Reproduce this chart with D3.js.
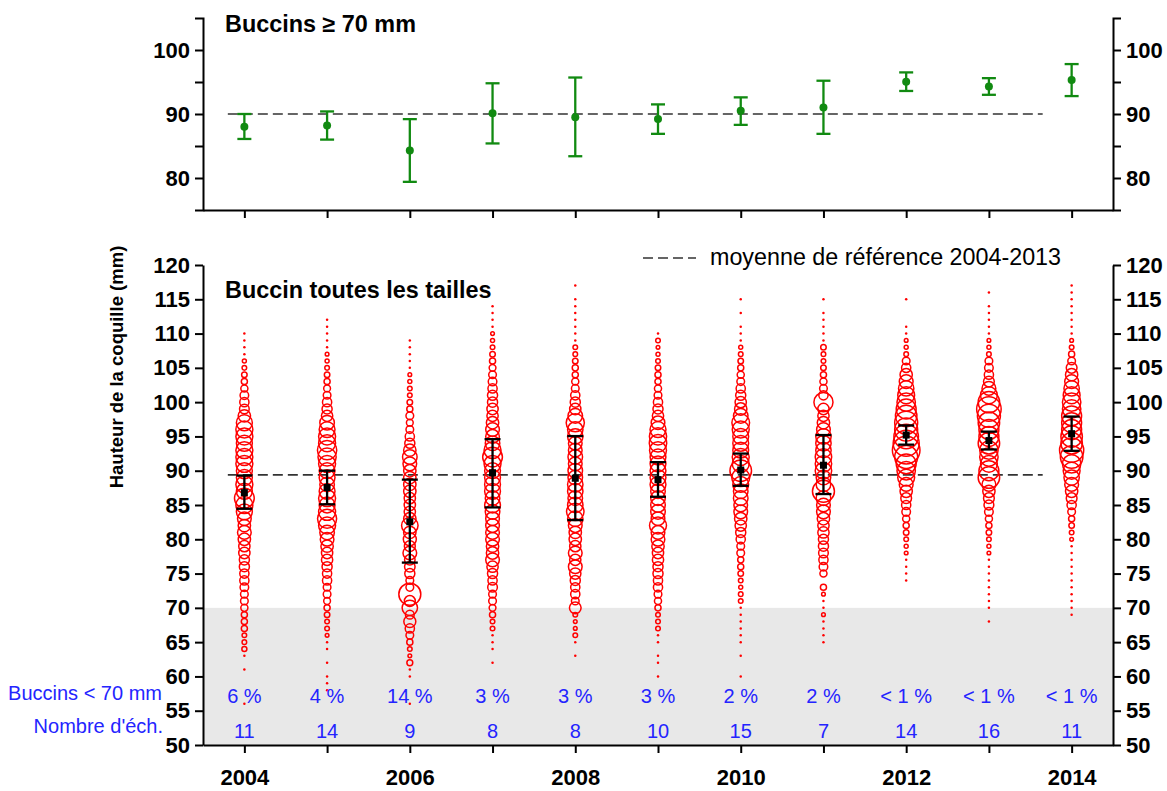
<!DOCTYPE html>
<html><head><meta charset="utf-8">
<script src="https://cdn.jsdelivr.net/npm/d3@7"></script>
<style>body{margin:0;background:#fff}svg{display:block}</style>
</head><body><svg id="c" width="1167" height="791"></svg>
<script>
const years = [2004,2005,2006,2007,2008,2009,2010,2011,2012,2013,2014];
const largeMean = [88.0, 88.2, 84.3, 90.1, 89.5, 89.2, 90.5, 91.0, 95.05, 94.3, 95.3];
const largeLow  = [86.1, 86.0, 79.4, 85.4, 83.4, 86.9, 88.3, 86.9, 93.6, 93.0, 92.8];
const largeHigh = [90.0, 90.4, 89.2, 94.8, 95.7, 91.5, 92.6, 95.2, 96.5, 95.6, 97.8];
const allMean = [86.8, 87.55, 82.55, 89.7, 88.9, 88.7, 90.1, 90.8, 95.2, 94.4, 95.4];
const allLow  = [84.45, 85.1, 76.6, 84.65, 82.8, 86.2, 87.8, 86.6, 93.8, 93.1, 92.9];
const allHigh = [89.3, 90.0, 88.7, 94.6, 95.05, 91.25, 92.5, 95.2, 96.6, 95.7, 97.9];
const refLarge = 90.0, refAll = 89.4;
const refPeriod = [2003.8, 2013.65];
const pctSmall = ["6 %","4 %","14 %","3 %","3 %","3 %","2 %","2 %","< 1 %","< 1 %","< 1 %"];
const nSamples = [11,14,9,8,8,10,15,7,14,16,11];
const topTicks = [80,85,90,95,100];
const botTicks = [50,55,60,65,70,75,80,85,90,95,100,105,110,115,120];
// first size class (mm) of each year, then relative frequency (%) per 1-mm class
const sizeMin = [56,58,56,62,63,60,60,65,74,68,69];
const sizeFreq = [
 [0.07,0,0,0,0,0.07,0,0.07,0.3,0.25,0.25,0.44,0.44,0.44,0.59,0.69,0.69,0.87,1.0,1.0,1.2,1.2,1.5,1.5,1.8,2.2,1.8,2.2,3.0,3.4,4.6,3.0,3.4,3.0,3.0,3.4,3.4,3.4,3.0,3.4,3.4,3.0,1.8,1.1,1.0,0.87,0.59,0.44,0.36,0.25,0.19,0.11,0.09,0.07,0.07],
 [0.07,0.07,0.07,0,0.07,0,0.07,0.11,0.16,0.25,0.25,0.36,0.44,0.54,0.69,0.69,1.0,1.0,1.2,1.5,1.5,1.8,2.2,2.5,3.4,4.3,3.4,2.95,3.4,2.95,2.5,2.95,2.95,3.4,3.9,4.4,3.4,3.4,2.95,2.5,1.5,1.2,1.0,0.69,0.54,0.44,0.36,0.25,0.19,0.16,0.11,0.09,0.07,0.07,0.07],
 [0.07,0,0,0,0.11,0.11,0.41,0.16,0.25,0.44,0.69,1.0,1.7,0.9,2.8,1.4,5.7,0.7,0.7,1.2,1.3,1.3,2.2,1.4,2.0,1.8,3.2,1.8,1.5,1.5,1.5,1.8,1.8,1.8,1.8,2.2,2.5,1.8,1.2,1.0,0.69,0.54,0.7,0.44,0.36,0.25,0.25,0.19,0.16,0.11,0.09,0.07,0.07,0.07],
 [0.07,0,0.07,0.07,0.11,0.25,0.25,0.44,0.54,0.69,0.69,1.1,1.0,1.2,1.5,2.2,1.8,1.8,2.2,2.2,2.2,2.2,2.5,2.95,2.5,2.95,2.95,2.95,2.95,3.4,4.6,3.4,2.5,2.2,2.2,1.8,1.5,1.5,1.2,1.2,1.0,0.87,0.69,0.54,0.44,0.36,0.25,0.19,0.16,0.11,0.09,0.07,0.07],
 [0.07,0,0.11,0.25,0.16,0.16,0.25,1.6,0.69,1.0,1.0,1.2,1.5,2.2,1.5,2.2,1.5,1.8,1.8,2.2,2.8,3.6,2.8,2.5,2.8,2.8,2.5,2.5,2.2,2.5,2.2,2.2,2.8,2.8,3.9,2.5,1.5,1.2,1.0,0.69,0.59,0.44,0.44,0.36,0.25,0.25,0.11,0.11,0.09,0.07,0.07,0.07,0.07,0,0.07],
 [0.07,0,0.07,0.07,0,0.07,0.11,0.25,0.25,0.25,0.44,0.59,0.69,1.0,1.0,1.2,1.2,1.5,1.5,1.8,2.2,2.2,3.4,2.2,2.5,2.5,2.5,2.5,2.95,2.95,2.95,2.95,2.95,3.4,3.6,3.5,3.0,2.2,1.5,1.2,1.0,0.69,0.59,0.44,0.44,0.36,0.25,0.19,0.16,0.25,0.07],
 [0.07,0,0,0.07,0,0.07,0.07,0.09,0.09,0.11,0.11,0.25,0.25,0.19,0.25,0.36,0.44,0.44,0.69,0.69,1.0,1.2,1.5,1.8,2.2,2.2,2.5,2.5,2.95,3.8,5.5,3.4,3.4,2.95,2.95,2.95,3.4,3.7,2.5,1.8,1.5,1.2,1.0,0.69,0.59,0.44,0.36,0.25,0.19,0.11,0.09,0.07,0,0.07,0,0.07],
 [0.07,0.07,0.09,0.09,0.16,0.11,0.11,0.16,0.44,0,0.59,0.87,1.0,1.1,1.2,1.2,1.5,1.5,1.8,2.2,2.2,2.5,5.7,2.5,2.5,3.2,3.2,3.2,2.8,2.8,2.8,2.2,1.8,1.5,1.5,4.3,1.0,0.69,0.59,0.44,0.36,0.25,0.25,0.36,0.11,0.09,0.07,0.07,0.07,0,0.07],
 [0.07,0.07,0.09,0.11,0.16,0.19,0.25,0.36,0.44,0.59,0.87,1.0,1.36,1.78,2.25,3.36,4.0,4.69,6.25,9.0,8.0,7.1,6.25,6.25,5.44,4.69,4.0,3.36,2.78,2.25,1.78,1.0,0.69,0.25,0.19,0.16,0.09,0.07,0,0,0,0.07],
 [0.07,0,0.07,0.07,0.07,0.07,0.09,0.09,0.11,0.11,0.16,0.19,0.25,0.36,0.44,0.59,0.87,1.14,1.36,1.78,2.25,5.44,4.69,3.36,4.0,4.0,5.44,4.69,4.69,5.44,6.25,7.1,5.44,3.36,2.25,1.36,1.0,0.87,0.69,0.25,0.19,0.16,0.11,0.07,0.07,0.07,0.07,0,0.07],
 [0.07,0.07,0.07,0.07,0.07,0.07,0.07,0.07,0.09,0.09,0.11,0.16,0.25,0.36,0.44,0.69,1.0,1.36,1.78,2.25,2.78,3.36,4.0,6.0,6.9,5.44,5.44,4.69,4.69,4.69,4.0,4.0,3.36,2.78,2.25,1.78,1.36,0.69,0.44,0.25,0.16,0.09,0.07,0.07,0.07,0.07,0.07,0.07,0.07]
];

const FONT = "'Liberation Sans', Arial, sans-serif";
const svg = d3.select("#c");
const x = d3.scaleLinear().domain([2003.5, 2014.5]).range([203, 1113]);
const yTop = d3.scaleLinear().domain([75, 105]).range([210, 18]);
const yBot = d3.scaleLinear().domain([50, 120]).range([745, 265]);
const rScale = d3.scaleSqrt().domain([0, 9]).range([0, 13.8]);
const green = "#118a11", blue = "#2424ff";

// grey band (< 70 mm)
svg.append("rect")
  .attr("x", x(2003.5)).attr("width", x(2014.5) - x(2003.5))
  .attr("y", yBot(70)).attr("height", yBot(50) - yBot(70))
  .attr("fill", "#e8e8e8");

function styleAxis(g, fs, bold) {
  g.attr("font-family", FONT).attr("font-size", fs).attr("font-weight", bold ? "bold" : "normal");
  g.selectAll("path,line").attr("stroke", "#000").attr("stroke-width", 2);
  g.selectAll("text").attr("fill", "#000");
}

// ---- top panel axes
svg.append("g").attr("transform", `translate(${x(2003.5)},0)`)
  .call(d3.axisLeft(yTop).tickValues(topTicks).tickFormat(d => d % 10 === 0 ? d : "").tickSize(8).tickSizeOuter(8).tickPadding(5))
  .call(g => styleAxis(g, 22, true));
svg.append("g").attr("transform", `translate(${x(2014.5)},0)`)
  .call(d3.axisRight(yTop).tickValues(topTicks).tickFormat(d => d % 10 === 0 ? d : "").tickSize(8).tickSizeOuter(8).tickPadding(5))
  .call(g => styleAxis(g, 22, true));
svg.append("g").attr("transform", `translate(0,${yTop(75)})`)
  .call(d3.axisBottom(x).tickValues(years).tickFormat("").tickSize(8).tickSizeOuter(0))
  .call(g => styleAxis(g, 22, true));

// ---- bottom panel axes
svg.append("g").attr("transform", `translate(${x(2003.5)},0)`)
  .call(d3.axisLeft(yBot).tickValues(botTicks).tickSize(8).tickSizeOuter(0).tickPadding(5))
  .call(g => styleAxis(g, 22, true));
svg.append("g").attr("transform", `translate(0,${yBot(50)})`)
  .call(d3.axisBottom(x).tickValues(years).tickFormat(d => d % 2 === 0 ? d : "").tickSize(8).tickSizeOuter(0).tickPadding(16))
  .call(g => styleAxis(g, 22, true));
svg.append("g").attr("transform", `translate(${x(2014.5)},0)`)
  .call(d3.axisRight(yBot).tickValues(botTicks).tickSize(8).tickSizeOuter(0).tickPadding(5))
  .call(g => styleAxis(g, 22, true));

// ---- reference dashed lines
svg.append("line").attr("x1", x(refPeriod[0])).attr("x2", x(refPeriod[1]))
  .attr("y1", yTop(refLarge)).attr("y2", yTop(refLarge))
  .attr("stroke", "#333").attr("stroke-width", 1.7).attr("stroke-dasharray", "10,5");
svg.append("line").attr("x1", x(refPeriod[0])).attr("x2", x(refPeriod[1]))
  .attr("y1", yBot(refAll)).attr("y2", yBot(refAll))
  .attr("stroke", "#333").attr("stroke-width", 1.7).attr("stroke-dasharray", "10,5");

// ---- top panel green error bars
const tg = svg.append("g").attr("stroke", green).attr("stroke-width", 2.3);
years.forEach((yr, i) => {
  const cx = x(yr);
  tg.append("line").attr("x1", cx).attr("x2", cx).attr("y1", yTop(largeLow[i])).attr("y2", yTop(largeHigh[i]));
  [largeLow[i], largeHigh[i]].forEach(v => tg.append("line").attr("x1", cx - 7).attr("x2", cx + 7).attr("y1", yTop(v)).attr("y2", yTop(v)));
  svg.append("circle").attr("cx", cx).attr("cy", yTop(largeMean[i])).attr("r", 4).attr("fill", green);
});

// ---- bubbles
const bg = svg.append("g");
years.forEach((yr, i) => {
  sizeFreq[i].forEach((f, j) => {
    if (f <= 0) return;
    const rr = rScale(f);
    const small = rr < 1.7;
    bg.append("circle").attr("cx", x(yr)).attr("cy", yBot(sizeMin[i] + j))
      .attr("r", small ? 1.25 : rr)
      .attr("fill", small ? "#ff0000" : "none")
      .attr("stroke", small ? "none" : "#ff0000")
      .attr("stroke-width", 1.5);
  });
});

// ---- bottom panel black error bars
const kg = svg.append("g").attr("stroke", "#000").attr("stroke-width", 2.3);
years.forEach((yr, i) => {
  const cx = x(yr);
  kg.append("line").attr("x1", cx).attr("x2", cx).attr("y1", yBot(allLow[i])).attr("y2", yBot(allHigh[i]));
  [allLow[i], allHigh[i]].forEach(v => kg.append("line").attr("x1", cx - 8).attr("x2", cx + 8).attr("y1", yBot(v)).attr("y2", yBot(v)));
  svg.append("rect").attr("x", cx - 3.5).attr("y", yBot(allMean[i]) - 3.5).attr("width", 7).attr("height", 7).attr("fill", "#000");
});

// ---- blue annotations
years.forEach((yr, i) => {
  svg.append("text").attr("x", x(yr)).attr("y", 703).attr("text-anchor", "middle")
    .attr("font-family", FONT).attr("font-size", 20).attr("fill", blue).text(pctSmall[i]);
  svg.append("text").attr("x", x(yr)).attr("y", 738).attr("text-anchor", "middle")
    .attr("font-family", FONT).attr("font-size", 20).attr("fill", blue).text(nSamples[i]);
});
svg.append("text").attr("x", 162).attr("y", 700).attr("text-anchor", "end")
  .attr("font-family", FONT).attr("font-size", 20).attr("fill", blue).text("Buccins < 70 mm");
svg.append("text").attr("x", 163).attr("y", 733).attr("text-anchor", "end")
  .attr("font-family", FONT).attr("font-size", 20).attr("fill", blue).text("Nombre d'éch.");

// ---- titles & legend
svg.append("text").attr("x", 225).attr("y", 32).attr("font-family", FONT).attr("font-size", 23.4)
  .attr("font-weight", "bold").attr("fill", "#000").text("Buccins ≥ 70 mm");
svg.append("text").attr("x", 225).attr("y", 298).attr("font-family", FONT).attr("font-size", 23.4)
  .attr("font-weight", "bold").attr("fill", "#000").text("Buccin toutes les tailles");
svg.append("text").attr("transform", "translate(123,367) rotate(-90)").attr("text-anchor", "middle")
  .attr("font-family", FONT).attr("font-size", 18.5).attr("font-weight", "bold").attr("fill", "#000")
  .text("Hauteur de la coquille (mm)");
svg.append("line").attr("x1", 643).attr("x2", 696).attr("y1", 258).attr("y2", 258)
  .attr("stroke", "#333").attr("stroke-width", 1.7).attr("stroke-dasharray", "10,5");
svg.append("text").attr("x", 710).attr("y", 265).attr("font-family", FONT).attr("font-size", 23.3)
  .attr("fill", "#000").text("moyenne de référence 2004-2013");
</script></body></html>
